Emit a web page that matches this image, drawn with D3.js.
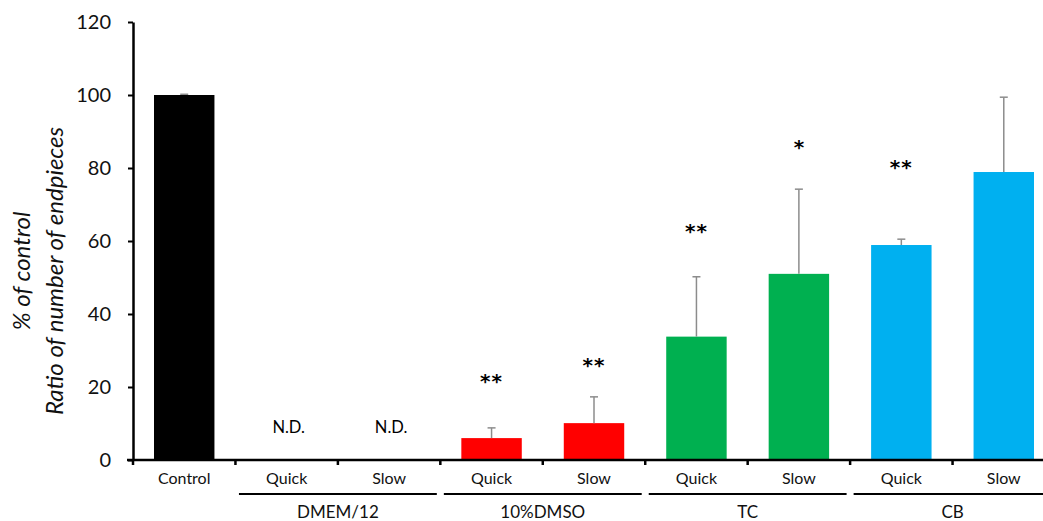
<!DOCTYPE html>
<html><head><meta charset="utf-8">
<script src="https://cdn.jsdelivr.net/npm/d3@7"></script>
<style>body{margin:0;background:#fff;} svg{display:block;font-family:Lato, "Open Sans", sans-serif;}</style>
</head><body>
<svg id="chart" width="1043" height="521"></svg>
<script>
const categories = ["Control","DMEM-Quick","DMEM-Slow","DMSO-Quick","DMSO-Slow","TC-Quick","TC-Slow","CB-Quick","CB-Slow"];
const catLabels = ["Control","Quick","Slow","Quick","Slow","Quick","Slow","Quick","Slow"];
const values = [100, 0, 0, 6.0, 10.1, 33.8, 51.0, 58.9, 78.9];
const errors = [0.2, 0, 0, 2.8, 7.2, 16.4, 23.2, 1.6, 20.5];
const notDetected = [false, true, true, false, false, false, false, false, false];
const signif = ["", "", "", "**", "**", "**", "*", "**", ""];
const signifLevel = [0, 0, 0, 22.7, 27.1, 63.8, 86.8, 81.4, 0];
const colors = ["#000000","#000000","#000000","#ff0000","#ff0000","#00b050","#00b050","#00b0f0","#00b0f0"];
const groups = [
  {name:"DMEM/12", from:"DMEM-Quick", to:"DMEM-Slow"},
  {name:"10%DMSO", from:"DMSO-Quick", to:"DMSO-Slow"},
  {name:"TC", from:"TC-Quick", to:"TC-Slow"},
  {name:"CB", from:"CB-Quick", to:"CB-Slow"}
];
const yTicks = [0,20,40,60,80,100,120];

const svg = d3.select("#chart");
const x0 = 133, x1 = 1055, yTop = 22, yBot = 460;
const x = d3.scaleBand().domain(categories).range([x0, x1]).paddingInner(0.41).paddingOuter(0.205);
const y = d3.scaleLinear().domain([0,120]).range([yBot, yTop]);

// bars
svg.append("g").selectAll("rect").data(categories).join("rect")
  .attr("x", d => x(d)).attr("width", x.bandwidth())
  .attr("y", (d,i) => y(values[i])).attr("height", (d,i) => yBot - y(values[i]))
  .attr("fill", (d,i) => colors[i]);

// error bars
const eg = svg.append("g").attr("stroke", "#8c8c8c").attr("stroke-width", 1.5);
categories.forEach((c,i) => {
  if (errors[i] <= 0) return;
  const cx = x(c) + x.bandwidth()/2;
  eg.append("line").attr("x1", cx).attr("x2", cx).attr("y1", y(values[i])).attr("y2", y(values[i]+errors[i]));
  eg.append("line").attr("x1", cx-4).attr("x2", cx+4).attr("y1", y(values[i]+errors[i])).attr("y2", y(values[i]+errors[i]));
});

// significance
categories.forEach((c,i) => {
  if (!signif[i]) return;
  svg.append("text").attr("x", x(c)+x.bandwidth()/2).attr("y", y(signifLevel[i]) + 11)
    .attr("text-anchor","middle").attr("font-size", 20).attr("font-weight","bold").attr("fill","#000")
    .attr("font-family","'DejaVu Sans', sans-serif").attr("letter-spacing", signif[i].length > 1 ? 1 : 0)
    .text(signif[i]);
});
// N.D.
categories.forEach((c,i) => {
  if (!notDetected[i]) return;
  svg.append("text").attr("x", x(c)+x.bandwidth()/2 + 2).attr("y", y(7.4))
    .attr("text-anchor","middle").attr("font-size", 16.5).attr("fill","#000").text("N.D.");
});

// y axis
const yAxis = svg.append("g").attr("transform", `translate(${x0},0)`)
  .call(d3.axisLeft(y).tickValues(yTicks).tickSize(5).tickPadding(17).tickSizeOuter(0));
yAxis.select(".domain").attr("stroke","#000").attr("stroke-width",2.5);
yAxis.selectAll(".tick line").attr("stroke","#000").attr("stroke-width",2);
yAxis.selectAll(".tick text").attr("font-size",20).attr("fill","#111").attr("font-family","Lato, sans-serif");

// x axis
const xAxis = svg.append("g").attr("transform", `translate(0,${yBot})`);
xAxis.append("line").attr("x1", x0-6).attr("x2", x1).attr("stroke","#000").attr("stroke-width",2.5);
const boundaries = d3.range(0, categories.length+1).map(i => x0 + i*x.step());
xAxis.selectAll(".bt").data(boundaries).join("line")
  .attr("x1", d => d).attr("x2", d => d).attr("y1", 0).attr("y2", 5)
  .attr("stroke","#000").attr("stroke-width",2.5);
xAxis.selectAll(".cl").data(categories).join("text")
  .attr("x", d => x(d)+x.bandwidth()/2).attr("y", 24)
  .attr("text-anchor","middle").attr("font-size",16).attr("fill","#111")
  .text((d,i) => catLabels[i]);

// groups
groups.forEach(g => {
  const a = x(g.from) - x.step()*0.2 + 3;
  const b = x(g.to) + x.bandwidth() + x.step()*0.2 - 3;
  svg.append("line").attr("x1", a).attr("x2", b).attr("y1", 494).attr("y2", 494)
    .attr("stroke","#000").attr("stroke-width",2);
  svg.append("text").attr("x", (a+b)/2).attr("y", 518).attr("text-anchor","middle")
    .attr("font-size",17).attr("fill","#111").text(g.name);
});

// y title
const tt = svg.append("text").attr("transform", `translate(0,${(yTop+yBot)/2 + 30}) rotate(-90)`)
  .attr("text-anchor","middle").attr("font-style","italic").attr("font-size",24).attr("fill","#111");
tt.append("tspan").attr("x",0).attr("y",30).text("% of control");
tt.append("tspan").attr("x",0).attr("y",63).text("Ratio of number of endpieces");
</script>
</body></html>
